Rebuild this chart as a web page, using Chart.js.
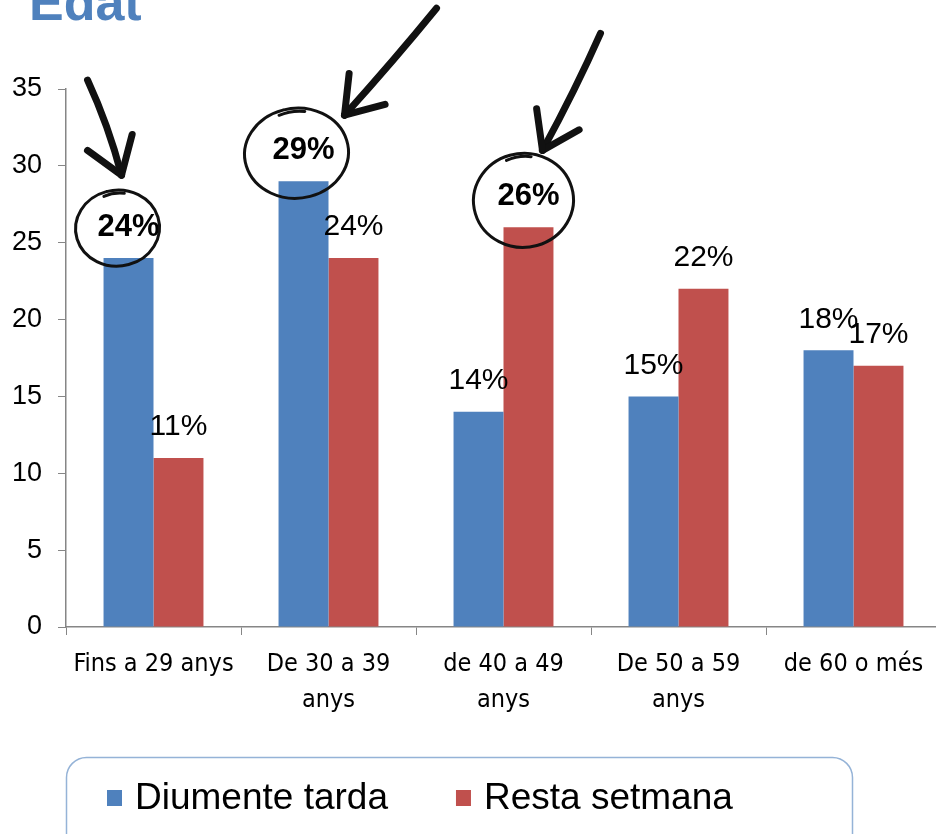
<!DOCTYPE html>
<html lang="ca">
<head>
<meta charset="utf-8">
<title>Edat</title>
<script src="https://cdn.jsdelivr.net/npm/chart.js@4"></script>
<style>
  html, body { margin: 0; padding: 0; background: #fff; overflow: hidden; }
  #wrap { width: 936px; height: 834px; overflow: hidden; }
</style>
</head>
<body>
<div id="wrap">
  <canvas id="chartEdat" width="942" height="834"></canvas>
</div>
<script>
  // dades
  var categories = [['Fins a 29 anys'], ['De 30 a 39', 'anys'], ['de 40 a 49', 'anys'], ['De 50 a 59', 'anys'], ['de 60 o més']];
  var diumenteTarda = [24, 29, 14, 15, 18];
  var restaSetmana = [11, 24, 26, 22, 17];
  var seriesNames = ['Diumente tarda', 'Resta setmana'];
  var yTicks = [0, 5, 10, 15, 20, 25, 30, 35];
  // valors destacats a mà: [serie, categoria]
  var highlighted = [[0, 0], [0, 1], [1, 2]];

  var blue = '#4F81BD';
  var red = '#C0504D';
  var axisGray = '#868686';

  // anotacions (cercle i fletxa) relatives a la barra
  var marks = [
    { cx: -11, cy: -30, rx: 42, ry: 38, tail: [-41, -178], tip: [-7, -83] },
    { cx: -7, cy: -28, rx: 52, ry: 45, tail: [133, -173], tip: [41, -66] },
    { cx: -5, cy: -27, rx: 50, ry: 47, tail: [72, -194], tip: [14, -77] }
  ];

  function isHighlighted(ds, i) {
    return highlighted.some(function (h) { return h[0] === ds && h[1] === i; });
  }

  // etiquetes de valor
  var valueLabels = {
    id: 'valueLabels',
    afterDatasetsDraw: function (chart) {
      var ctx = chart.ctx;
      ctx.save();
      ctx.fillStyle = '#000';
      ctx.textAlign = 'center';
      ctx.textBaseline = 'middle';
      chart.data.datasets.forEach(function (ds, d) {
        chart.getDatasetMeta(d).data.forEach(function (bar, i) {
          ctx.font = isHighlighted(d, i) ? 'bold 31px "Liberation Sans", Arial, sans-serif' : '30px "Liberation Sans", Arial, sans-serif';
          ctx.fillText(ds.data[i] + '%', bar.x, bar.y - 31);
        });
      });
      ctx.restore();
    }
  };

  // cercles i fletxes
  var handMarks = {
    id: 'handMarks',
    afterDraw: function (chart) {
      var ctx = chart.ctx;
      ctx.save();
      ctx.strokeStyle = '#111';
      ctx.lineCap = 'round';
      ctx.lineJoin = 'round';
      highlighted.forEach(function (h, k) {
        var bar = chart.getDatasetMeta(h[0]).data[h[1]];
        var m = marks[k];
        var cx = bar.x + m.cx, cy = bar.y + m.cy;
        ctx.lineWidth = 3;
        ctx.beginPath();
        ctx.ellipse(cx, cy, m.rx, m.ry, -0.1, -1.75, 2 * Math.PI - 1.15);
        ctx.stroke();
        ctx.beginPath();
        ctx.ellipse(cx + 2, cy + 1, m.rx - 4, m.ry - 2, -0.1, -1.9, -1.35);
        ctx.stroke();

        var tx = bar.x + m.tail[0], ty = bar.y + m.tail[1];
        var px = bar.x + m.tip[0], py = bar.y + m.tip[1];
        ctx.lineWidth = 7;
        ctx.beginPath();
        ctx.moveTo(tx, ty);
        ctx.quadraticCurveTo((tx + px) / 2 + 4, (ty + py) / 2 - 2, px, py);
        ctx.stroke();
        var ang = Math.atan2(py - ty, px - tx);
        [0.6, -0.6].forEach(function (s) {
          ctx.beginPath();
          ctx.moveTo(px, py);
          ctx.lineTo(px - 42 * Math.cos(ang + s), py - 42 * Math.sin(ang + s));
          ctx.stroke();
        });
      });
      ctx.restore();
    }
  };

  // títol i llegenda
  var titleLegend = {
    id: 'titleLegend',
    afterDraw: function (chart) {
      var ctx = chart.ctx;
      ctx.save();
      ctx.fillStyle = blue;
      ctx.font = 'bold 52px "Liberation Sans", Arial, sans-serif';
      ctx.textBaseline = 'alphabetic';
      ctx.textAlign = 'left';
      ctx.fillText('Edat', 29, 20);

      // caixa
      ctx.strokeStyle = '#95B3D7';
      ctx.lineWidth = 1.5;
      ctx.beginPath();
      ctx.roundRect(66.5, 757.5, 786, 100, 20);
      ctx.stroke();

      ctx.font = '37px "Liberation Sans", Arial, sans-serif';
      ctx.textBaseline = 'middle';
      var x = 107;
      chart.data.datasets.forEach(function (ds) {
        ctx.fillStyle = ds.backgroundColor;
        ctx.fillRect(x, 790, 15, 16);
        ctx.fillStyle = '#000';
        ctx.fillText(ds.label, x + 28, 799);
        x += 28 + ctx.measureText(ds.label).width + 68;
      });
      ctx.restore();
    }
  };

  var chartData = {
    labels: categories,
    datasets: [
      { label: seriesNames[0], data: diumenteTarda, backgroundColor: blue },
      { label: seriesNames[1], data: restaSetmana, backgroundColor: red }
    ]
  };

  var chartOption = {
    responsive: false,
    animation: false,
    layout: { padding: { top: 89, left: 0, right: 1, bottom: 107 } },
    datasets: { bar: { categoryPercentage: 0.571, barPercentage: 1 } },
    plugins: { legend: { display: false }, tooltip: { enabled: false } },
    scales: {
      x: {
        grid: { offset: true, drawOnChartArea: false, drawTicks: true, tickLength: 8, color: axisGray },
        border: { display: true, color: axisGray, width: 1.5 },
        ticks: {
          color: '#000',
          padding: 11,
          maxRotation: 0,
          autoSkip: false,
          font: { family: '"Liberation Sans Narrow", "DejaVu Sans Condensed", sans-serif', size: 25, lineHeight: 1.44 }
        },
        afterFit: function (scale) { scale.height = 100; }
      },
      y: {
        min: 0,
        max: 35,
        grid: { drawOnChartArea: false, drawTicks: true, tickLength: 8, color: axisGray },
        border: { display: true, color: axisGray, width: 1.5 },
        afterBuildTicks: function (scale) {
          scale.ticks = yTicks.map(function (v) { return { value: v }; });
        },
        ticks: {
          color: '#000',
          padding: 16,
          font: { family: '"Liberation Sans", Arial, sans-serif', size: 27 }
        },
        afterFit: function (scale) { scale.width = 66; }
      }
    }
  };

  new Chart(document.getElementById('chartEdat').getContext('2d'), {
    type: 'bar',
    data: chartData,
    options: chartOption,
    plugins: [valueLabels, handMarks, titleLegend]
  });
</script>
</body>
</html>
